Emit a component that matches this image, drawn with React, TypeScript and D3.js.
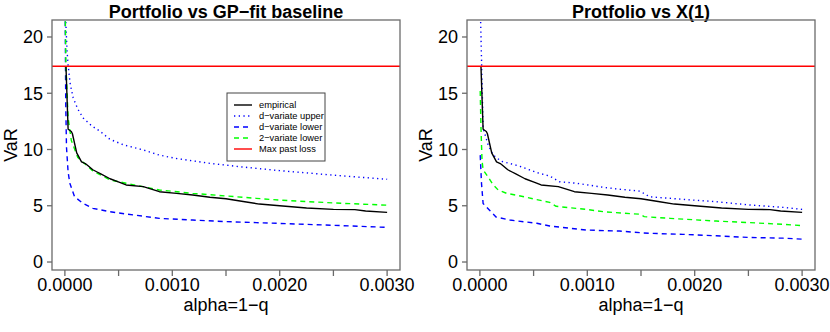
import React from 'react';
import * as d3 from 'd3';

// values: [alpha, VaR]
const empirical = [
  [0.00001, 17.4], [0.00003, 11.8], [0.00006, 11.6], [0.00007, 11.4], [0.00011, 9.7],
  [0.000155, 8.9], [0.00019, 8.75], [0.00021, 8.6], [0.00026, 8.2], [0.0003, 8.0],
  [0.00033, 7.85], [0.00042, 7.4], [0.00051, 7.08], [0.00057, 6.85], [0.00073, 6.7],
  [0.00088, 6.25], [0.00104, 6.1], [0.00119, 5.96], [0.00135, 5.75], [0.0015, 5.62],
  [0.00166, 5.38], [0.00181, 5.15], [0.002, 5.0], [0.00225, 4.8], [0.0025, 4.68],
  [0.0027, 4.66], [0.0028, 4.53], [0.003, 4.41],
];

const gpUpper = [
  [0.000004, 23], [0.00001, 21], [0.00002, 18.8], [0.00003, 17.5], [0.00005, 15.8],
  [0.000077, 14.6], [0.00012, 13.6], [0.00017, 12.8], [0.00025, 12.1], [0.00033, 11.6],
  [0.00042, 10.9], [0.00055, 10.4], [0.00073, 9.96], [0.00088, 9.5], [0.00104, 9.2],
  [0.00135, 8.77], [0.00165, 8.45], [0.002, 8.12], [0.0025, 7.72], [0.003, 7.35],
];
const gpLower = [
  [0.000002, 23], [0.000008, 14], [0.000015, 10.2], [0.00003, 8.0], [0.000046, 7.0],
  [0.00009, 5.8], [0.00017, 5.2], [0.00026, 4.77], [0.00042, 4.47], [0.00057, 4.27],
  [0.00088, 3.88], [0.00119, 3.73], [0.0015, 3.59], [0.00178, 3.5], [0.002, 3.43],
  [0.0025, 3.26], [0.003, 3.08],
];
const gpLower2 = [
  [0.000002, 23], [0.00001, 17.4], [0.00003, 12.8], [0.00006, 10.8], [0.00012, 9.3],
  [0.00026, 8.1], [0.00042, 7.3], [0.00057, 7.0], [0.00088, 6.4], [0.00119, 6.1],
  [0.0015, 5.87], [0.00178, 5.66], [0.002, 5.5], [0.0025, 5.25], [0.003, 5.05],
];

const x1Upper = [
  [0.000003, 23], [0.00003, 11.9], [0.000077, 10.4], [0.000124, 9.5], [0.0002, 8.95],
  [0.00036, 8.55], [0.00053, 7.95], [0.00065, 7.64], [0.00074, 7.14], [0.0009, 7.0],
  [0.00115, 6.64], [0.0013, 6.47], [0.00149, 6.3], [0.00158, 5.8], [0.00189, 5.57],
  [0.0022, 5.36], [0.00251, 5.07], [0.00282, 4.86], [0.003, 4.68],
];
const x1Lower = [
  [0.000003, 9.5], [0.000015, 7.0], [0.00003, 5.2], [0.00009, 4.6], [0.00015, 4.0],
  [0.00028, 3.73], [0.00053, 3.44], [0.00065, 3.2], [0.00099, 2.84], [0.0013, 2.75],
  [0.0015, 2.6], [0.00158, 2.55], [0.00189, 2.46], [0.0022, 2.33], [0.00251, 2.18],
  [0.00282, 2.12], [0.003, 2.03],
];
const x1Lower2 = [
  [0.000003, 15.2], [0.00001, 12], [0.00002, 9.0], [0.00003, 8.2], [0.00008, 7.5],
  [0.00012, 6.9], [0.00017, 6.4], [0.00025, 6.1], [0.00036, 5.9], [0.00053, 5.55],
  [0.00065, 5.3], [0.00071, 4.95], [0.00099, 4.68], [0.00115, 4.47], [0.0014, 4.3],
  [0.00149, 4.25], [0.00153, 4.03], [0.00177, 3.88], [0.0022, 3.64], [0.00251, 3.5],
  [0.00282, 3.35], [0.003, 3.23],
];

const maxPastLoss = 17.4;
const yTicks = [0, 5, 10, 15, 20];
const xTicks = [0, 0.0005, 0.001, 0.0015, 0.002, 0.0025, 0.003];
const xLabelTicks = [0, 0.001, 0.002, 0.003];
const legendLabels = ['empirical', 'd\u2212variate upper', 'd\u2212variate lower', '2\u2212variate lower', 'Max past loss'];

const FONT = '"Liberation Sans", Arial, Helvetica, sans-serif';
const AXIS = '#6a6a6a';

const styles = {
  emp: { stroke: '#000', dash: undefined, w: 1.4 },
  upper: { stroke: '#0000ff', dash: '1.3,3.4', w: 1.4 },
  lower: { stroke: '#0000ff', dash: '5,4', w: 1.4 },
  lower2: { stroke: '#00ff00', dash: '5,4', w: 1.4 },
  max: { stroke: '#ff0000', dash: undefined, w: 1.4 },
};

const Panel = ({ dx, title, upper, lower, lower2, legend, id }) => {
  const left = 52 + dx, right = 400 + dx, top = 20, bottom = 270;
  const x = d3.scaleLinear().domain([-0.00012, 0.00312]).range([left, right]);
  const y = d3.scaleLinear().domain([-0.71, 21.51]).range([bottom, top]);
  const line = d3.line().x(d => x(d[0])).y(d => y(d[1]));
  const series = [
    [upper, styles.upper],
    [lower, styles.lower],
    [lower2, styles.lower2],
    [empirical, styles.emp],
  ];
  const cx = (left + right) / 2;
  return (
    <g>
      <defs>
        <clipPath id={id}>
          <rect x={left} y={top} width={right - left} height={bottom - top} />
        </clipPath>
      </defs>
      <text x={cx} y={17.5} textAnchor="middle" fontWeight="bold" fontSize={18}>{title}</text>
      <g clipPath={`url(#${id})`}>
        {series.map(([d, s], i) => (
          <path key={i} d={line(d)} fill="none" stroke={s.stroke} strokeWidth={s.w}
            strokeDasharray={s.dash} strokeLinejoin="round" />
        ))}
        <line x1={left} x2={right} y1={y(maxPastLoss)} y2={y(maxPastLoss)}
          stroke={styles.max.stroke} strokeWidth={styles.max.w} />
      </g>
      <rect x={left} y={top} width={right - left} height={bottom - top} fill="none" stroke={AXIS} strokeWidth={1.3} />
      {yTicks.map(t => (
        <g key={t}>
          <line x1={left - 5} x2={left} y1={y(t)} y2={y(t)} stroke={AXIS} strokeWidth={1.3} />
          <text x={left - 9} y={y(t)} dy="0.35em" textAnchor="end" fontSize={18}>{t}</text>
        </g>
      ))}
      {xTicks.map(t => (
        <line key={t} x1={x(t)} x2={x(t)} y1={bottom} y2={bottom + 6} stroke={AXIS} strokeWidth={1.3} />
      ))}
      {xLabelTicks.map(t => (
        <text key={t} x={x(t)} y={291} textAnchor="middle" fontSize={18}>{d3.format('.4f')(t)}</text>
      ))}
      <text x={cx} y={311} textAnchor="middle" fontSize={18}>alpha=1{'\u2212'}q</text>
      <text transform={`translate(${17 + dx},145) rotate(-90)`} textAnchor="middle" fontSize={18}>VaR</text>
      {legend && (
        <g>
          <rect x={227} y={93} width={98} height={68} fill="#fff" stroke="#444" strokeWidth={1} />
          {[styles.emp, styles.upper, styles.lower, styles.lower2, styles.max].map((s, i) => (
            <g key={i}>
              <line x1={234} x2={252} y1={105 + i * 11} y2={105 + i * 11} stroke={s.stroke}
                strokeWidth={s.w} strokeDasharray={s.dash} />
              <text x={259} y={105 + i * 11} dy="0.35em" fontSize={9.3}>{legendLabels[i]}</text>
            </g>
          ))}
        </g>
      )}
    </g>
  );
}; 

export default function App() {
  return (
    <svg width={830} height={332} style={{ position: 'absolute', left: 0, top: 0, display: 'block', fontFamily: FONT, background: '#fff' }}>
      <rect width={830} height={332} fill="#fff" />
      <Panel dx={0} id="c1" title={'Portfolio vs GP\u2212fit baseline'} upper={gpUpper} lower={gpLower} lower2={gpLower2} legend />
      <Panel dx={415} id="c2" title="Protfolio vs X(1)" upper={x1Upper} lower={x1Lower} lower2={x1Lower2} legend={false} />
    </svg>
  );
}
